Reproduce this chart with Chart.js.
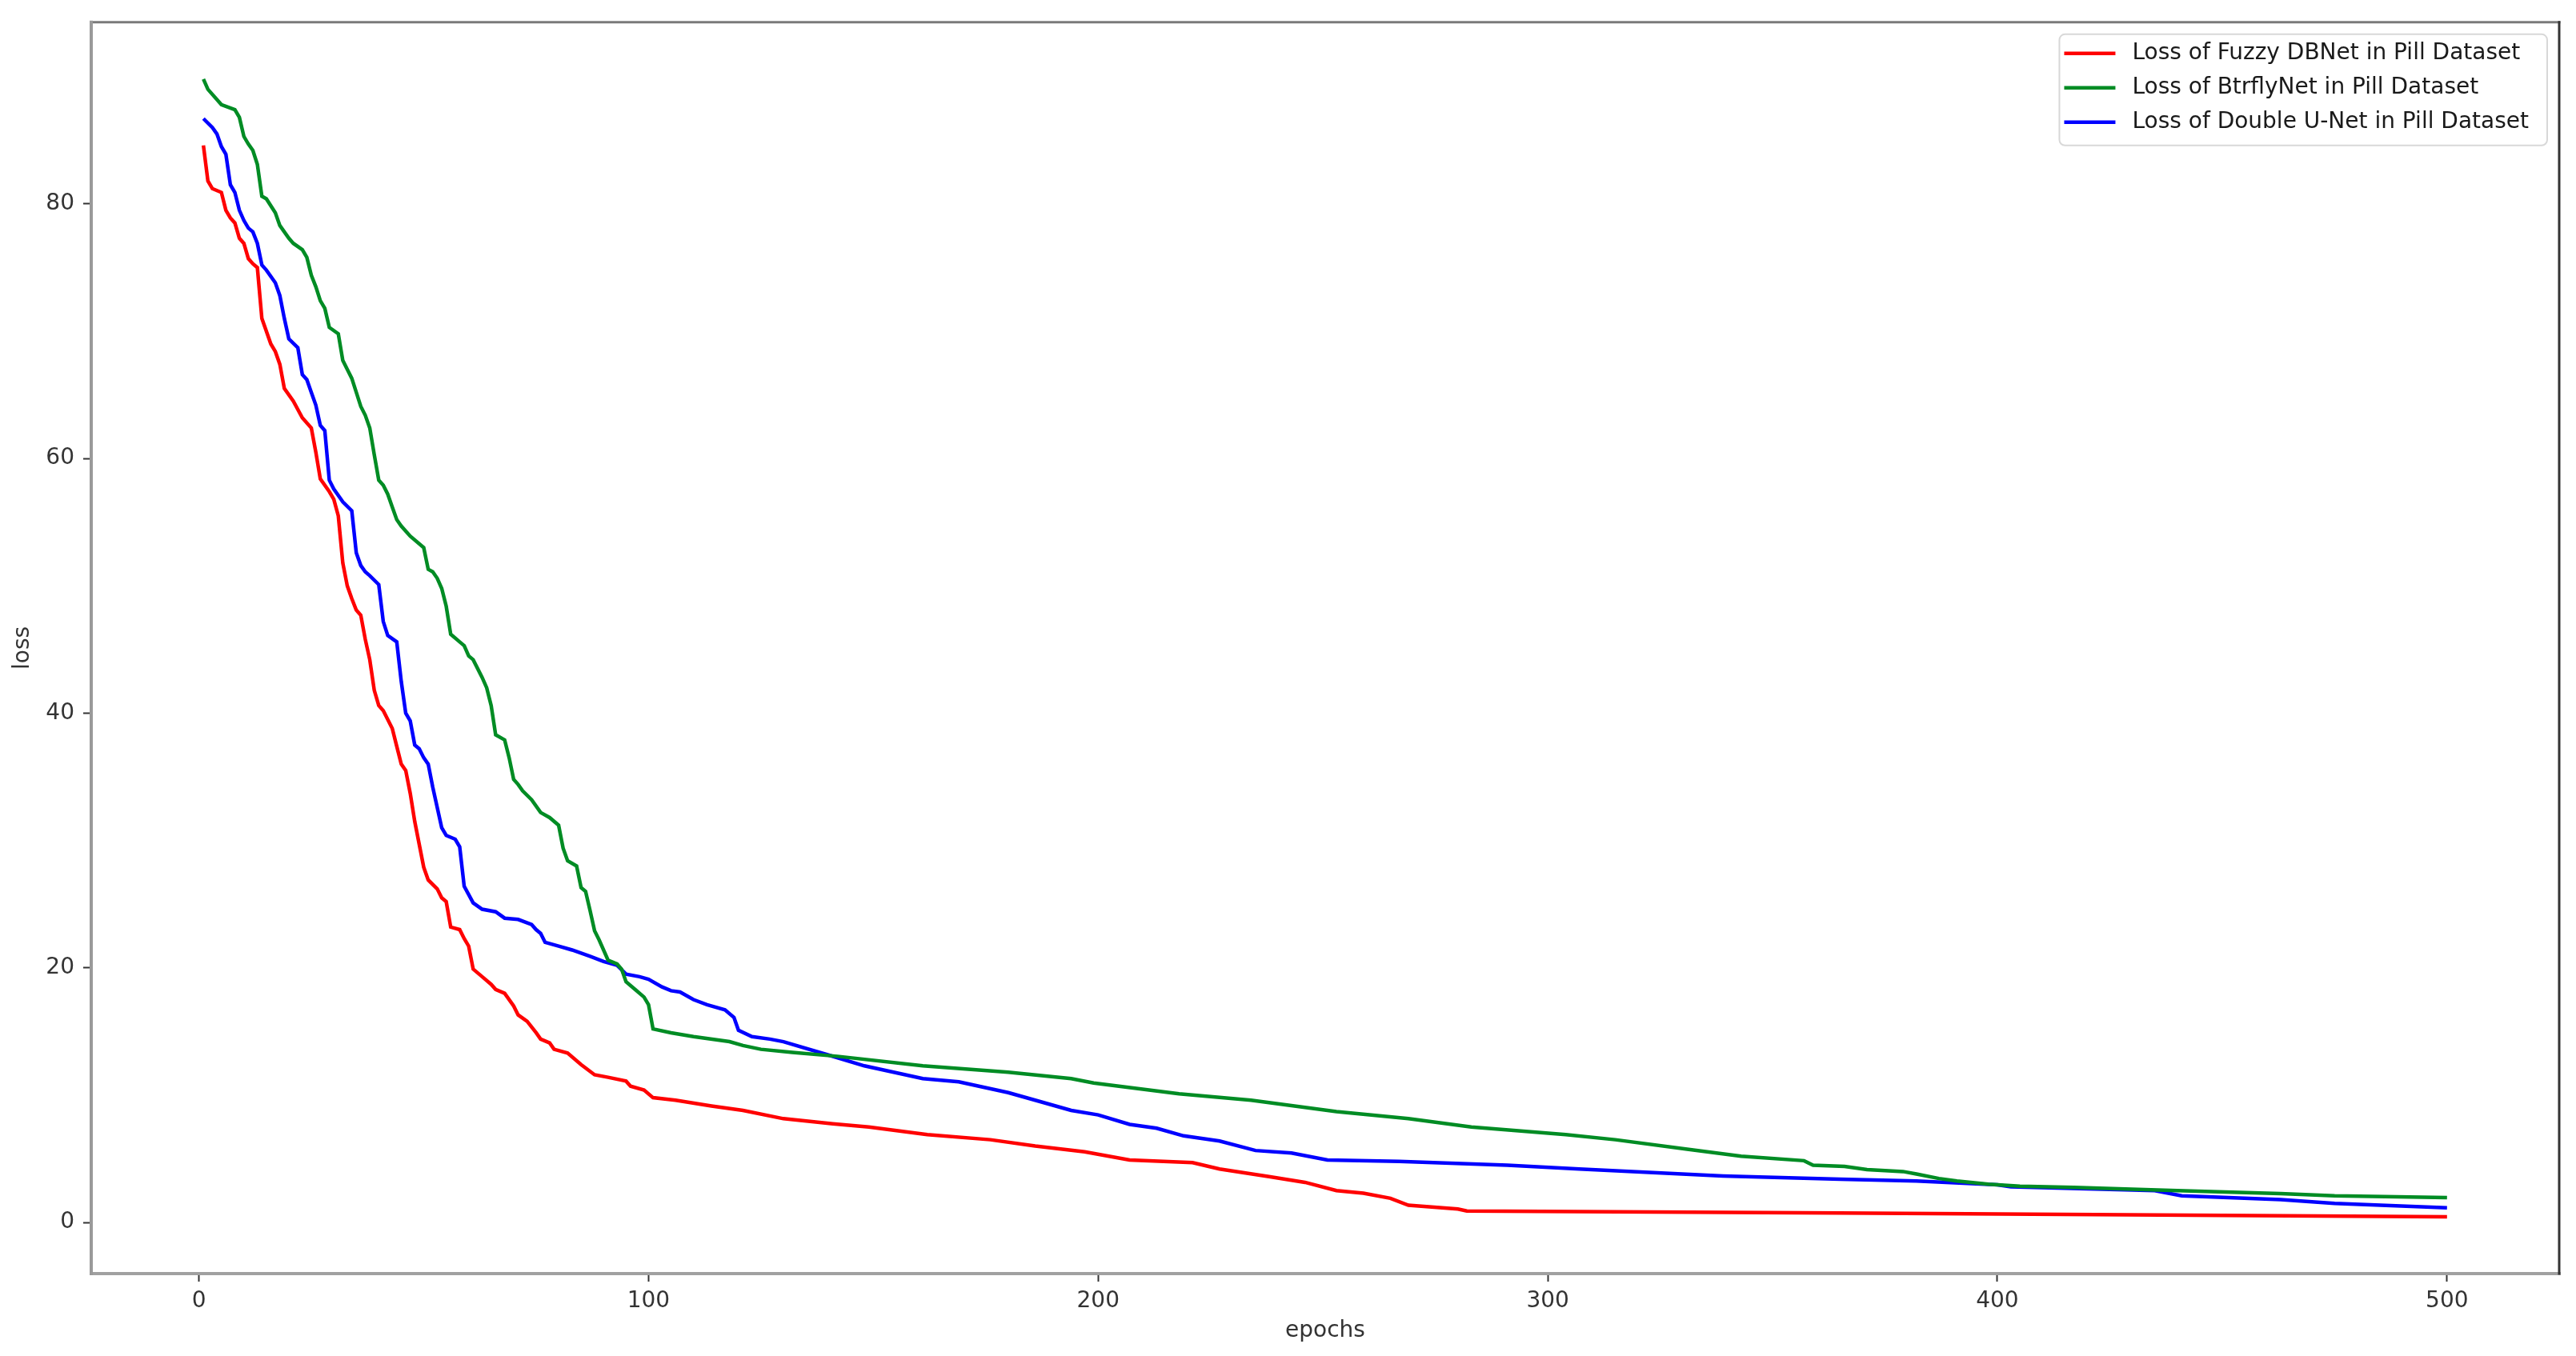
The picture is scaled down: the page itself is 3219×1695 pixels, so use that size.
<!DOCTYPE html>
<html>
<head>
<meta charset="utf-8">
<title>Loss curves - Pill Dataset</title>
<script src="https://cdn.jsdelivr.net/npm/chart.js@4.4.1/dist/chart.umd.min.js"></script>
<style>
  html, body { margin: 0; padding: 0; background: #fff; }
  canvas { display: block; }
</style>
</head>
<body>
<canvas id="lossChart" width="3219" height="1695"></canvas>
<script>
// values (epoch, loss)
const fuzzyEpochs = [1, 2, 3, 5, 6, 7, 8, 9, 10, 11, 12, 13, 14, 16, 17, 18, 19, 21, 23, 25, 26, 27, 29, 30, 31, 32, 33, 34, 35, 36, 37, 38, 39, 40, 41, 43, 44, 45, 46, 47, 48, 50, 51, 53, 54, 55, 56, 58, 59, 60, 61, 63, 65, 66, 68, 70, 71, 73, 75, 76, 78, 79, 82, 85, 88, 91, 95, 96, 99, 101, 106, 114, 121, 130, 141, 149, 162, 176, 186, 197, 207, 221, 227, 238, 246, 253, 259, 265, 269, 280, 282, 365, 500];
const fuzzyLoss = [84.6, 81.8, 81.2, 80.9, 79.5, 78.9, 78.5, 77.3, 76.9, 75.7, 75.3, 75.0, 71.0, 69.0, 68.4, 67.4, 65.5, 64.5, 63.2, 62.4, 60.5, 58.4, 57.4, 56.8, 55.5, 51.8, 50.0, 49.0, 48.1, 47.7, 45.8, 44.2, 41.8, 40.6, 40.2, 38.8, 37.4, 36.0, 35.5, 33.7, 31.5, 27.9, 26.9, 26.2, 25.5, 25.2, 23.2, 23.0, 22.3, 21.7, 19.9, 19.3, 18.7, 18.3, 18.0, 17.0, 16.3, 15.8, 14.9, 14.4, 14.1, 13.6, 13.3, 12.4, 11.6, 11.4, 11.1, 10.7, 10.4, 9.8, 9.6, 9.15, 8.8, 8.15, 7.75, 7.5, 6.9, 6.5, 6.0, 5.55, 4.9, 4.7, 4.2, 3.6, 3.15, 2.5, 2.3, 1.9, 1.35, 1.05, 0.9, 0.75, 0.45];

const btrflyEpochs = [1, 2, 5, 8, 9, 10, 11, 12, 13, 14, 15, 17, 18, 20, 21, 23, 24, 25, 26, 27, 28, 29, 31, 32, 33, 34, 35, 36, 37, 38, 39, 40, 41, 42, 43, 44, 45, 47, 50, 51, 52, 53, 54, 55, 56, 58, 59, 60, 61, 63, 64, 65, 66, 68, 69, 70, 71, 72, 74, 76, 78, 80, 81, 82, 84, 85, 86, 87, 88, 89, 91, 93, 94, 95, 97, 99, 100, 101, 105, 110, 118, 121, 125, 132, 142, 161, 180, 194, 199, 218, 234, 253, 269, 283, 304, 315, 331, 343, 357, 359, 366, 371, 379, 382, 387, 391, 398, 405, 417, 440, 463, 475, 500];
const btrflyLoss = [89.8, 89.0, 87.8, 87.4, 86.8, 85.3, 84.7, 84.2, 83.1, 80.6, 80.4, 79.3, 78.3, 77.3, 76.9, 76.4, 75.8, 74.4, 73.5, 72.4, 71.8, 70.3, 69.8, 67.7, 67.0, 66.3, 65.2, 64.1, 63.4, 62.4, 60.3, 58.3, 57.9, 57.2, 56.2, 55.2, 54.7, 53.9, 53.0, 51.3, 51.1, 50.6, 49.8, 48.4, 46.2, 45.6, 45.3, 44.5, 44.2, 42.8, 42.0, 40.6, 38.3, 37.9, 36.5, 34.8, 34.4, 33.9, 33.2, 32.2, 31.8, 31.2, 29.4, 28.4, 28.0, 26.3, 26.0, 24.5, 22.9, 22.2, 20.6, 20.3, 19.9, 18.9, 18.3, 17.7, 17.1, 15.2, 14.9, 14.6, 14.2, 13.9, 13.6, 13.35, 13.05, 12.3, 11.8, 11.3, 10.95, 10.1, 9.6, 8.7, 8.15, 7.5, 6.9, 6.5, 5.75, 5.2, 4.85, 4.5, 4.4, 4.15, 4.0, 3.8, 3.45, 3.25, 3.0, 2.85, 2.75, 2.5, 2.27, 2.1, 1.95];

const doubleUEpochs = [1, 3, 4, 5, 6, 7, 8, 9, 10, 11, 12, 13, 14, 15, 17, 18, 19, 20, 22, 23, 24, 25, 26, 27, 28, 29, 30, 31, 32, 34, 35, 36, 37, 38, 40, 41, 42, 44, 45, 46, 47, 48, 49, 50, 51, 52, 54, 55, 57, 58, 59, 61, 63, 66, 68, 71, 74, 75, 76, 77, 80, 83, 87, 90, 93, 95, 98, 100, 103, 105, 107, 110, 113, 117, 119, 120, 123, 127, 130, 140, 148, 161, 169, 180, 186, 194, 200, 207, 213, 219, 227, 235, 243, 251, 267, 291, 307, 339, 365, 382, 400, 403, 435, 441, 463, 475, 500];
const doubleULoss = [86.7, 86.0, 85.5, 84.5, 83.9, 81.5, 80.9, 79.5, 78.7, 78.1, 77.8, 76.9, 75.2, 74.8, 73.8, 72.8, 71.0, 69.4, 68.7, 66.6, 66.2, 65.2, 64.2, 62.6, 62.2, 58.3, 57.6, 57.1, 56.6, 55.9, 52.6, 51.6, 51.1, 50.8, 50.1, 47.2, 46.1, 45.6, 42.5, 40.0, 39.4, 37.5, 37.2, 36.5, 36.0, 34.2, 31.0, 30.4, 30.1, 29.5, 26.4, 25.1, 24.6, 24.4, 23.9, 23.8, 23.4, 23.0, 22.7, 22.0, 21.7, 21.4, 20.9, 20.5, 20.2, 19.5, 19.3, 19.1, 18.5, 18.2, 18.1, 17.5, 17.1, 16.7, 16.1, 15.1, 14.6, 14.4, 14.2, 13.15, 12.3, 11.3, 11.05, 10.2, 9.6, 8.8, 8.45, 7.7, 7.4, 6.8, 6.4, 5.65, 5.45, 4.9, 4.8, 4.5, 4.2, 3.65, 3.4, 3.25, 2.95, 2.8, 2.5, 2.1, 1.8, 1.5, 1.15];

const seriesLabels = [
  "Loss of Fuzzy DBNet in Pill Dataset",
  "Loss of BtrflyNet in Pill Dataset",
  "Loss of Double U-Net in Pill Dataset",
];
const seriesColors = ["#ff0000", "#008c24", "#0000ff"];

const xTicks = [0, 100, 200, 300, 400, 500];
const yTicks = [0, 20, 40, 60, 80];

const toPoints = (epochs, loss) => epochs.map((e, i) => ({ x: e, y: loss[i] }));

// matplotlib-like 5% margins around the data
const allX = fuzzyEpochs.concat(btrflyEpochs, doubleUEpochs);
const allY = fuzzyLoss.concat(btrflyLoss, doubleULoss);
const xLo = Math.min(...allX), xHi = Math.max(...allX);
const yLo = Math.min(...allY), yHi = Math.max(...allY);
const xPad = (xHi - xLo) * 0.05;
const yPad = (yHi - yLo) * 0.05;

Chart.defaults.font.family = "'DejaVu Sans', sans-serif";
Chart.defaults.color = "#333";

// axes frame (spines)
const frame = {
  id: "frame",
  afterDatasetsDraw(chart) {
    const { ctx, chartArea: a } = chart;
    const side = (x1, y1, x2, y2, color, w) => {
      ctx.strokeStyle = color;
      ctx.lineWidth = w;
      ctx.beginPath();
      ctx.moveTo(x1, y1);
      ctx.lineTo(x2, y2);
      ctx.stroke();
    };
    ctx.save();
    ctx.lineCap = "square";
    side(a.left, a.top, a.right, a.top, "#7a7a7a", 3);
    side(a.left, a.bottom, a.right, a.bottom, "#a0a0a0", 4);
    side(a.left, a.top, a.left, a.bottom, "#9a9a9a", 4);
    side(a.right, a.top, a.right, a.bottom, "#333", 3);
    ctx.restore();
  },
};

// legend box in the upper right corner of the plot
const boxLegend = {
  id: "boxLegend",
  afterDraw(chart) {
    const { ctx, chartArea: a } = chart;
    const items = chart.data.datasets;
    ctx.save();
    ctx.font = "28px 'DejaVu Sans'";
    const textW = Math.max(...items.map((d) => ctx.measureText(d.label).width));
    const right = a.right - 15;
    const top = a.top + 15;
    const w = 6 + 64 + 21 + textW + 23;
    const h = 139;
    const left = right - w;

    ctx.fillStyle = "rgba(255,255,255,0.85)";
    ctx.strokeStyle = "#d8d8d8";
    ctx.lineWidth = 2;
    ctx.beginPath();
    ctx.roundRect(left, top, w, h, 7);
    ctx.fill();
    ctx.stroke();

    items.forEach((d, i) => {
      const y = top + 24 + i * 43;
      ctx.strokeStyle = d.borderColor;
      ctx.lineWidth = 4.5;
      ctx.beginPath();
      ctx.moveTo(left + 6, y);
      ctx.lineTo(left + 70, y);
      ctx.stroke();
      ctx.fillStyle = "#1a1a1a";
      ctx.textBaseline = "middle";
      ctx.textAlign = "left";
      ctx.fillText(d.label, left + 91, y);
    });
    ctx.restore();
  },
};

new Chart(document.getElementById("lossChart"), {
  type: "line",
  data: {
    datasets: [
      { label: seriesLabels[0], data: toPoints(fuzzyEpochs, fuzzyLoss), borderColor: seriesColors[0] },
      { label: seriesLabels[1], data: toPoints(btrflyEpochs, btrflyLoss), borderColor: seriesColors[1] },
      { label: seriesLabels[2], data: toPoints(doubleUEpochs, doubleULoss), borderColor: seriesColors[2] },
    ],
  },
  options: {
    responsive: false,
    animation: false,
    devicePixelRatio: 1,
    layout: { padding: { left: 0, top: 21, right: 21, bottom: 0 } },
    elements: {
      point: { radius: 0 },
      line: { tension: 0, borderWidth: 4.5, fill: false },
    },
    plugins: {
      legend: { display: false },
      tooltip: { enabled: false },
    },
    scales: {
      x: {
        type: "linear",
        bounds: "data",
        min: xLo - xPad,
        max: xHi + xPad,
        afterBuildTicks: (s) => { s.ticks = xTicks.map((v) => ({ value: v })); },
        afterFit: (s) => { s.height = 103; },
        grid: { drawOnChartArea: false, tickLength: 10, tickColor: "#333", tickWidth: 2 },
        border: { display: false },
        ticks: { padding: 8, autoSkip: false, maxRotation: 0, font: { size: 28 } },
        title: { display: true, text: "epochs", font: { size: 28 }, padding: { top: 0, bottom: 14 } },
      },
      y: {
        type: "linear",
        bounds: "data",
        min: yLo - yPad,
        max: yHi + yPad,
        afterBuildTicks: (s) => { s.ticks = yTicks.map((v) => ({ value: v })); },
        afterFit: (s) => { s.width = 114; },
        grid: { drawOnChartArea: false, tickLength: 10, tickColor: "#333", tickWidth: 2 },
        border: { display: false },
        ticks: { padding: 11, autoSkip: false, font: { size: 28 } },
        title: { display: true, text: "loss", font: { size: 28 }, padding: { top: 12, bottom: 0 } },
      },
    },
  },
  plugins: [frame, boxLegend],
});
</script>
</body>
</html>
